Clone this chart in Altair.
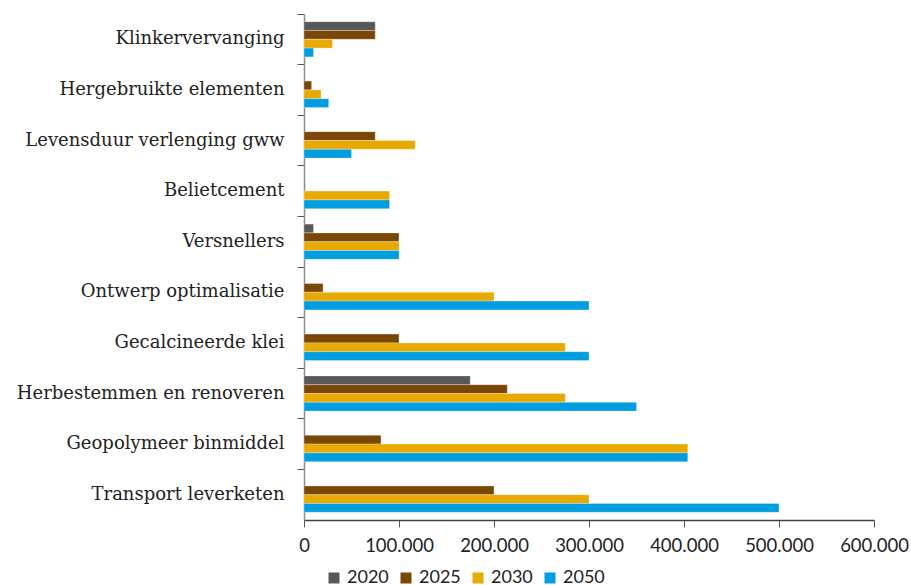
import altair as alt
import pandas as pd

categories = [
    "Klinkervervanging",
    "Hergebruikte elementen",
    "Levensduur verlenging gww",
    "Belietcement",
    "Versnellers",
    "Ontwerp optimalisatie",
    "Gecalcineerde klei",
    "Herbestemmen en renoveren",
    "Geopolymeer binmiddel",
    "Transport leverketen",
]
years = ["2020", "2025", "2030", "2050"]

v2020 = [75000, 0, 0, 0, 10000, 0, 0, 175000, 0, 0]
v2025 = [75000, 8000, 75000, 0, 100000, 20000, 100000, 214000, 81000, 200000]
v2030 = [30000, 18000, 117000, 90000, 100000, 200000, 275000, 275000, 404000, 300000]
v2050 = [10000, 26000, 50000, 90000, 100000, 300000, 300000, 350000, 404000, 500000]

colors = ["#595959", "#7a4707", "#e8aa00", "#009ee0"]

rows = []
for year, vals in zip(years, [v2020, v2025, v2030, v2050]):
    for cat, v in zip(categories, vals):
        if v > 0:
            rows.append({"categorie": cat, "jaar": year, "waarde": v})
df = pd.DataFrame(rows)

bars = alt.Chart(df).mark_bar(stroke="white", strokeWidth=0.6, strokeOpacity=0.5).encode(
    y=alt.Y(
        "categorie:N",
        sort=categories,
        title=None,
        scale=alt.Scale(paddingInner=0, paddingOuter=0),
        axis=alt.Axis(
            bandPosition=0,
            labelFont="DejaVu Serif",
            labelFontSize=18,
            labelColor="#222222",
            labelPadding=13,
            labelLimit=400,
            tickSize=7,
            tickColor="#555555",
            domainColor="#8c8c8c",
            domainWidth=1.5,
        ),
    ),
    yOffset=alt.YOffset(
        "jaar:N",
        sort=years,
        scale=alt.Scale(paddingInner=0, paddingOuter=0.875),
    ),
    x=alt.X(
        "waarde:Q",
        title=None,
        scale=alt.Scale(domain=[0, 600000], nice=False),
        axis=alt.Axis(
            values=[0, 100000, 200000, 300000, 400000, 500000, 600000],
            labelExpr="datum.value == 0 ? '0' : format(datum.value / 1000, 'd') + '.000'",
            labelFont="Lato",
            labelFontSize=18.5,
            labelColor="#222222",
            labelPadding=9,
            labelOverlap=False,
            labelFlush=False,
            tickSize=7,
            tickColor="#555555",
            domainColor="#404040",
            domainWidth=1.5,
            grid=False,
        ),
    ),
    color=alt.Color(
        "jaar:N",
        sort=years,
        scale=alt.Scale(domain=years, range=colors),
        legend=alt.Legend(
            title=None,
            orient="none",
            legendX=21,
            legendY=555,
            padding=0,
            direction="horizontal",
            symbolType="square",
            symbolSize=121,
            symbolStrokeWidth=0,
            labelFont="Lato",
            labelFontSize=18,
            labelColor="#222222",
            labelOffset=4,
            columnPadding=8,
        ),
    ),
)

chart = bars.properties(
    width=570,
    height=506,
    background="white",
    autosize=alt.AutoSizeParams(type="none"),
    padding={"left": 304, "top": 14, "right": 37, "bottom": 65},
).configure_view(stroke="transparent")

chart.save("out.html", embed_options={"renderer": "svg", "actions": False})
